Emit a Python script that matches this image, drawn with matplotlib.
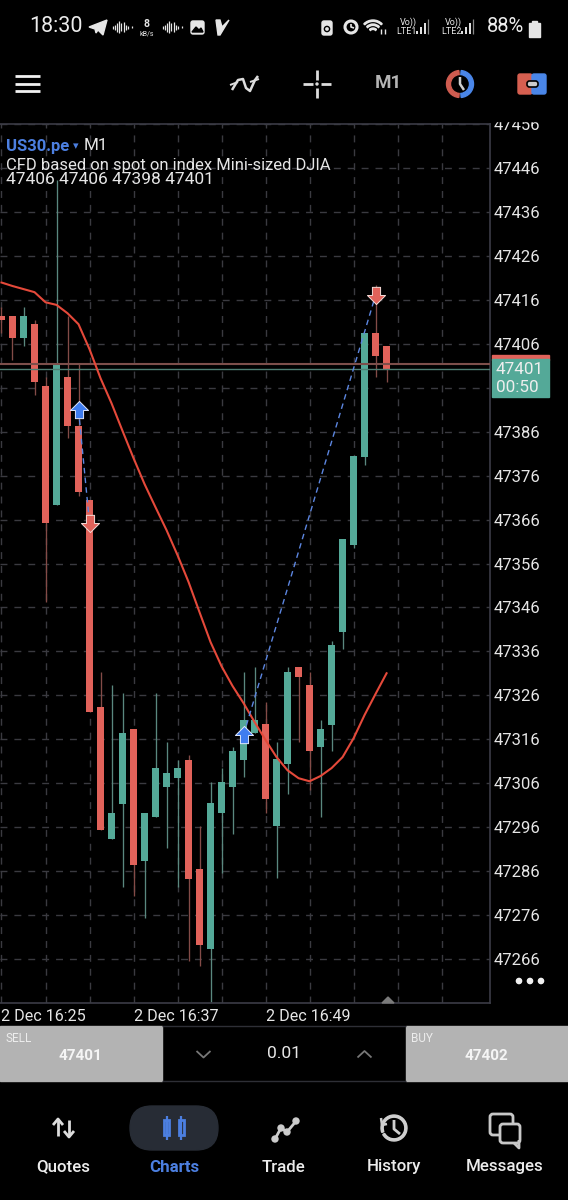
import matplotlib
matplotlib.use('Agg')
import matplotlib.pyplot as plt
from matplotlib.patches import Rectangle, FancyBboxPatch, Polygon, Circle, Wedge
from matplotlib.path import Path

plt.rcParams['font.family'] = ['Roboto', 'DejaVu Sans']

# candle data, one minute per candle from 16:25
opens = [47412.4, 47412.4, 47407.3, 47410.5, 47396.5, 47369.3, 47398.5, 47387.4, 47370.4, 47323.4,
         47293.2, 47301.2, 47318.3, 47288.2, 47298.2, 47305.1, 47307.1, 47311.3, 47286.4, 47268.2,
         47299.1, 47305.1, 47311.2, 47317.4, 47319.4, 47296.3, 47310.3, 47332.4, 47328.3, 47314.2,
         47319.2, 47340.4, 47360.2, 47380.2, 47408.5, 47405.5]
highs = [47414.4, 47412.4, 47414.4, 47411.4, 47398.5, 47443.3, 47412.4, 47401.4, 47370.4, 47331.3,
         47328.3, 47326.5, 47318.3, 47299.2, 47326.5, 47315.4, 47311.2, 47312.4, 47296.2, 47306.3,
         47309.4, 47314.2, 47331.3, 47332.5, 47324.4, 47315.4, 47332.4, 47332.4, 47331.3, 47320.3,
         47338.4, 47361.6, 47380.5, 47408.5, 47419.4, 47405.5]
lows = [47408.5, 47402.3, 47405.5, 47394.4, 47347.3, 47369.3, 47384.6, 47371.4, 47322.2, 47295.3,
        47293.2, 47282.4, 47280.3, 47275.3, 47298.2, 47291.2, 47282.4, 47265.4, 47264.4, 47256.2,
        47285.5, 47294.4, 47307.3, 47317.4, 47299.2, 47284.3, 47303.5, 47315.4, 47304.4, 47298.3,
        47313.3, 47336.5, 47359.5, 47378.4, 47398.5, 47397.4]
closes = [47411.4, 47407.3, 47412.4, 47397.4, 47365.3, 47401.4, 47387.3, 47372.3, 47322.2, 47295.3,
          47299.2, 47317.4, 47287.3, 47299.2, 47309.4, 47308.3, 47309.4, 47284.1, 47269.1, 47301.4,
          47306.3, 47313.3, 47320.3, 47320.3, 47302.3, 47311.4, 47331.3, 47330.2, 47313.3, 47318.3,
          47337.4, 47361.6, 47380.5, 47408.5, 47403.3, 47400.4]
ma_line = [47420.0, 47419.2, 47418.5, 47417.8, 47415.5, 47414.9, 47413.0, 47410.5, 47404.8, 47398.2,
           47392.5, 47386.2, 47380.0, 47374.1, 47368.8, 47363.6, 47357.9, 47351.8, 47344.9, 47338.1,
           47332.6, 47328.1, 47324.2, 47319.9, 47315.8, 47311.9, 47308.9, 47307.1, 47306.4, 47307.6,
           47309.4, 47311.9, 47316.2, 47321.5, 47326.3, 47331.0]

# deals: (candle, price) for entry and exit of each trade
deal_in = [(7, 47391.0), (22, 47317.0)]
deal_out = [(8, 47365.2), (34, 47417.1)]
ask_price = 47401.4
bid_price = 47400.4

price_ticks = list(range(47266, 47457, 10))
hidden_price = 47396  # sits behind the live price box on the app
time_ticks = list(range(0, 41, 4))
time_labels = {0: '2 Dec 16:25', 12: '2 Dec 16:37', 24: '2 Dec 16:49'}

nav_labels = ['Quotes', 'Charts', 'Trade', 'History', 'Messages']

GREEN = '#54a998'
RED = '#e1625a'
GREEN_WICK = '#5a887f'
RED_WICK = '#834b47'
GRID = '#3a3a40'
FRAME = '#3b3c46'
LIGHT = '#e6e6e6'
BLUE = '#4c7fe0'

W, H = 568, 1200
fig = plt.figure(figsize=(W / 100, H / 100), dpi=100, facecolor='black')

# price chart, pixel box 0..490 x 124..1003
ax = fig.add_axes([0, 1 - 1003 / H, 490 / W, 879 / H], facecolor='black', zorder=1)
ax.set_xlim(-0.136, 44.4)
ax.set_ylim(47255.9, 47456.1)

idx = list(range(len(opens)))
ax.set_yticks(price_ticks)
ax.set_yticklabels(['' if p == hidden_price else str(p) for p in price_ticks])
ax.yaxis.tick_right()
ax.set_xticks(time_ticks)
ax.set_xticklabels([time_labels.get(t, '') for t in time_ticks], ha='left')
ax.tick_params(axis='y', length=0, pad=2.5, labelsize=12, labelcolor=LIGHT)
ax.tick_params(axis='x', length=0, pad=4, labelsize=11.6, labelcolor=LIGHT)
ax.grid(True, color=GRID, linestyle=(0, (5, 5)), linewidth=1)
ax.set_axisbelow(True)
for name, sp in ax.spines.items():
    sp.set_color(FRAME)
    sp.set_linewidth(1.2)
ax.spines['left'].set_visible(False)

for i in idx:
    up = closes[i] >= opens[i]
    ax.vlines(i, lows[i], highs[i], color=GREEN_WICK if up else RED_WICK, linewidth=0.95, zorder=2)
    ax.bar(i, abs(closes[i] - opens[i]), bottom=min(opens[i], closes[i]), width=0.66,
           color=GREEN if up else RED, linewidth=0, zorder=3)

ax.axhline(ask_price, color='#7d4f4b', linewidth=1.5, zorder=4)
ax.axhline(bid_price, color='#4f7f74', linewidth=1, zorder=4)
ax.plot(idx, ma_line, color='#e5493a', linewidth=1.5, zorder=5)

up_arrow = Path([(-1, 0), (0, 1), (1, 0), (0.45, 0), (0.45, -0.9), (-0.45, -0.9), (-0.45, 0), (-1, 0)], closed=True)
down_arrow = Path([(-1, 0), (0, -1), (1, 0), (0.45, 0), (0.45, 0.9), (-0.45, 0.9), (-0.45, 0), (-1, 0)], closed=True)
for (i0, p0), (i1, p1) in zip(deal_in, deal_out):
    ax.plot([i0, i1], [p0, p1], color='#5c86e0', linewidth=1, linestyle=(0, (4, 3)), zorder=6)
    ax.scatter([i0], [p0], marker=up_arrow, s=170, color='#3f7df0', edgecolors='#dfe8ff', linewidths=0.7, zorder=7)
    ax.scatter([i1], [p1], marker=down_arrow, s=170, color=RED, edgecolors='#f5dcd8', linewidths=0.7, zorder=7)

# everything around the chart is drawn in screen pixels
ov = fig.add_axes([0, 0, 1, 1], zorder=2)
ov.set_xlim(0, W)
ov.set_ylim(H, 0)
ov.axis('off')
ov.patch.set_alpha(0)


def txt(x, y, s, size=12, color=LIGHT, ha='left', weight='normal', **kw):
    ov.text(x, y, s, fontsize=size, color=color, ha=ha, va='center', fontweight=weight, **kw)


def line(xs, ys, color=LIGHT, lw=2, **kw):
    ov.plot(xs, ys, color=color, linewidth=lw, solid_capstyle=kw.pop('cap', 'butt'), **kw)


def waveform(x0):
    hs = [3, 5, 9, 12, 8, 10, 5, 3, 0, 2]
    for k, h in enumerate(hs):
        if h:
            line([x0 + k * 2.1] * 2, [27 - h / 2, 27 + h / 2], lw=0.9)


# cover top of the clipped axis label
ov.add_patch(Rectangle((490, 100), 78, 21, color='black', zorder=3))

# status bar
txt(29, 27, '18:30', size=15.5, color='#ececec')
ov.add_patch(Polygon([(89, 27), (107, 20), (103, 35), (98, 30), (96, 33), (95, 29)], color=LIGHT))
waveform(113)
txt(147, 24, '8', size=7.5, ha='center', weight='bold')
txt(147, 34.5, 'kB/s', size=5, ha='center')
waveform(163)
ov.add_patch(FancyBboxPatch((191, 21), 13, 13, boxstyle='round,pad=0,rounding_size=2', color=LIGHT))
ov.add_patch(Polygon([(192, 32), (196, 27), (199, 30), (201, 28), (203, 32)], color='black'))
ov.add_patch(Polygon([(216, 20), (220, 20), (222, 27), (229, 20), (220, 35), (218, 35)], color=LIGHT))
ov.add_patch(FancyBboxPatch((322, 21), 10, 14, boxstyle='round,pad=0,rounding_size=2', color=LIGHT))
ov.add_patch(Circle((327, 29), 2.6, fill=False, edgecolor='black', linewidth=1))
ov.add_patch(Circle((351, 27), 6, fill=False, edgecolor=LIGHT, linewidth=2.2))
line([351, 351, 354], [24, 27, 28], lw=1.2)
for r in [13, 9, 5]:
    ov.add_patch(Wedge((373, 33), r, 225, 315, width=1.4, color=LIGHT))
line([381, 381], [29, 34], lw=1)
line([385, 385], [29, 34], lw=1)
for x0 in [396, 441]:
    txt(x0 + 12, 22.5, 'Vo))', size=6.5, ha='center')
    txt(x0 + 10, 31.5, 'LTE%d' % (1 if x0 == 396 else 2), size=6.5, ha='center')
    for k, h in enumerate([3, 7, 11, 15]):
        line([x0 + 21 + k * 3.8] * 2, [34, 34 - h], lw=1.4 if k < 3 else 0.9, color=LIGHT if k < 3 else '#888888')
txt(487, 27, '88%', size=14.5, color='#ececec')
ov.add_patch(Rectangle((529, 23), 11, 14, color=LIGHT))
ov.add_patch(Rectangle((532, 20.5), 5, 3, color=LIGHT))

# toolbar
for y in [76, 83.5, 91]:
    line([15, 40], [y, y], color='#f2f2f2', lw=2)
line([232, 238, 243, 246, 250, 255, 258], [90, 80, 79, 88, 91, 80, 76], color='#dddddd', lw=1.8)
line([230, 238], [85, 82], color='#dddddd', lw=1.4)
line([250, 259], [82, 79], color='#dddddd', lw=1.4)
line([303, 313], [84, 84], color='#dddddd', lw=2)
line([321, 331], [84, 84], color='#dddddd', lw=2)
line([317, 317], [70, 80], color='#dddddd', lw=2)
line([317, 317], [88, 98], color='#dddddd', lw=2)
ov.add_patch(Circle((317, 84), 1, color='#dddddd'))
txt(388, 83.5, 'M1', size=13.5, color='#b5b5b5', ha='center', weight='bold')
ov.add_patch(Wedge((460, 84), 13.5, 95, 265, width=4, color='#cf5c50'))
ov.add_patch(Wedge((460, 84), 13.5, -85, 85, width=4, color='#4a86e8'))
line([460, 460, 464], [77, 84, 90], color='#cfcfcf', lw=1.8)
ov.add_patch(FancyBboxPatch((518, 74), 14, 20, boxstyle='round,pad=0,rounding_size=2', color='#d65f50'))
ov.add_patch(FancyBboxPatch((532, 74), 14, 20, boxstyle='round,pad=0,rounding_size=2', color='#4a86e8'))
ov.add_patch(FancyBboxPatch((527, 81), 11, 6, boxstyle='round,pad=0,rounding_size=2.5',
                            facecolor='#cccccc', edgecolor='black', linewidth=1.2))

# chart header
txt(6, 146, 'US30.pe', size=12, color=BLUE, weight='bold')
txt(72.5, 146, '▾', size=8, color=BLUE)
txt(84, 146, 'M1', size=12.3)
txt(6, 165.5, 'CFD based on spot on index Mini-sized DJIA', size=12)
txt(6, 180, '47406 47406 47398 47401', size=12.5)

# live price label
ov.add_patch(Rectangle((492, 355), 57, 4.5, color=RED, zorder=3))
ov.add_patch(Rectangle((492, 359), 57, 38, color=GREEN, zorder=3))
ov.text(496, 369, '47401', fontsize=12.3, color='#eeeeee', va='center', zorder=4)
ov.text(496, 387.5, '00:50', fontsize=12.3, color='#eeeeee', va='center', zorder=4)

for x in [519, 530, 541]:
    ov.add_patch(Circle((x, 981), 2.6, color='#f0f0f0'))
ov.add_patch(Polygon([(382, 1003), (388, 997), (394, 1003)], color='#7a7a7a'))

# order bar
ov.add_patch(Rectangle((0, 1026), 162, 55, color='#b3b3b3'))
ov.add_patch(Rectangle((406, 1026), 162, 55, color='#b3b3b3'))
line([162, 406], [1026, 1026], color='#2e2f36', lw=1)
line([162, 406], [1081, 1081], color='#2e2f36', lw=1)
txt(6, 1038.5, 'SELL', size=8.5, color='#ededed', stretch='condensed')
txt(411, 1038.5, 'BUY', size=8.5, color='#ededed', stretch='condensed')
txt(80, 1056.5, '47401', size=11, color='#f5f5f5', ha='center', weight='bold')
txt(486, 1056.5, '47402', size=11, color='#f5f5f5', ha='center', weight='bold')
txt(284, 1054, '0.01', size=12.5, ha='center')
line([196.5, 203.5, 210.5], [1051, 1057.5, 1051], color='#777777', lw=1.3)
line([357.5, 364.5, 371.5], [1057.5, 1051, 1057.5], color='#777777', lw=1.3)

# bottom navigation
ov.add_patch(FancyBboxPatch((130, 1106), 88, 44, boxstyle='round,pad=0,rounding_size=22', color='#272c35'))
for x, label in zip([63, 174, 284, 394, 505], nav_labels):
    active = label == 'Charts'
    txt(x, 1167, label, size=12.2, color=BLUE if active else '#ececec', ha='center',
        weight='bold' if active else 'medium')

# Quotes icon
line([58, 58], [1120, 1136], color='#dddddd', lw=2)
line([53, 58, 63], [1125, 1119, 1125], color='#dddddd', lw=2)
line([69, 69], [1120, 1136], color='#dddddd', lw=2)
line([64, 69, 74], [1131, 1137, 1131], color='#dddddd', lw=2)
# Charts icon
for x in [166.5, 181]:
    ov.add_patch(Rectangle((x - 2.5, 1120), 5, 15, fill=False, edgecolor=BLUE, linewidth=2))
    line([x, x], [1116, 1140], color=BLUE, lw=1.6)
# Trade icon
line([275, 281, 287, 297], [1139, 1128, 1132, 1120], color='#cccccc', lw=2)
for x, y in [(275, 1139), (281, 1128), (287, 1132), (296, 1121)]:
    ov.add_patch(Circle((x, y), 3, color='#cccccc'))
# History icon
ov.add_patch(Wedge((394, 1128), 13, -200, 150, width=2.2, color='#cfcfcf'))
line([381, 382, 387], [1118, 1125, 1124], color='#cfcfcf', lw=1.8)
line([394, 394, 400], [1120, 1129, 1134], color='#cfcfcf', lw=2)
# Messages icon
ov.add_patch(FancyBboxPatch((490, 1114), 23, 21, boxstyle='round,pad=0,rounding_size=3',
                            fill=False, edgecolor='#c8c8c8', linewidth=2))
ov.add_patch(FancyBboxPatch((500, 1124), 20, 19, boxstyle='round,pad=0,rounding_size=3',
                            facecolor='black', edgecolor='#c8c8c8', linewidth=2))
line([514, 519, 519], [1143, 1148, 1140], color='#c8c8c8', lw=2)

fig.savefig('out.png', dpi=100, facecolor='black')
